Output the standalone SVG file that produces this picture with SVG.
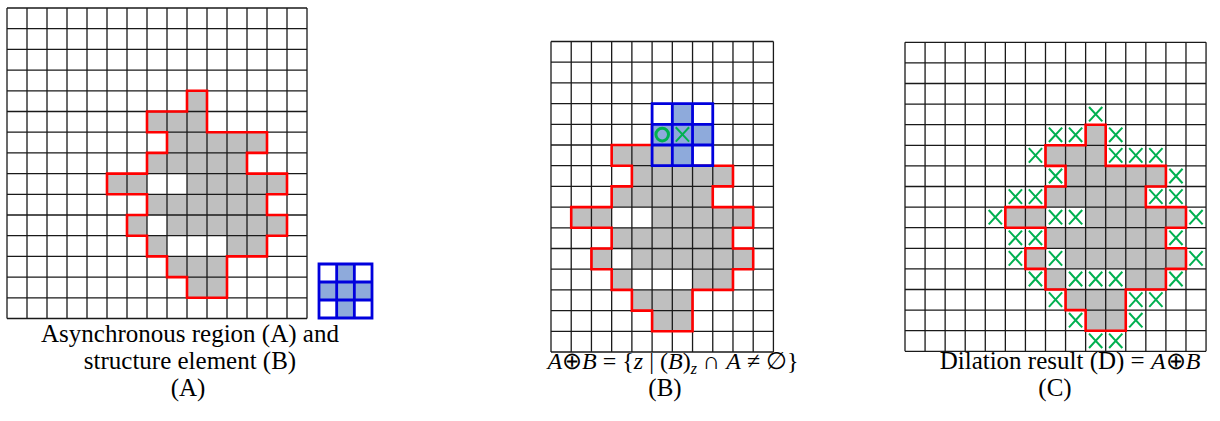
<svg xmlns="http://www.w3.org/2000/svg" xmlns:xlink="http://www.w3.org/1999/xlink" width="1220" height="421" viewBox="0 0 1220 421">
<style>
.grid{fill:none;stroke:#1a1a1a;stroke-width:1.3;vector-effect:non-scaling-stroke}
.cells{fill:#bfbfbf;stroke:none}
.outline{fill:none;stroke:#ff0000;stroke-width:2.6;stroke-linejoin:miter;vector-effect:non-scaling-stroke}
.xm{fill:none;stroke:#00b050;stroke-width:2;vector-effect:non-scaling-stroke}
.se-fill{fill:#8eaadb;stroke:none}
.se-line{fill:none;stroke:#0000dd;stroke-width:2.8;vector-effect:non-scaling-stroke}
.lbl{font-family:"Liberation Serif","Times New Roman",serif;font-size:25px;fill:#000;text-anchor:middle}
.math{font-size:24px}
.it{font-style:italic}
</style>
<defs>
<path id="g15" class="grid" d="M0 0V15M1 0V15M2 0V15M3 0V15M4 0V15M5 0V15M6 0V15M7 0V15M8 0V15M9 0V15M10 0V15M11 0V15M12 0V15M13 0V15M14 0V15M15 0V15M0 0H15M0 1H15M0 2H15M0 3H15M0 4H15M0 5H15M0 6H15M0 7H15M0 8H15M0 9H15M0 10H15M0 11H15M0 12H15M0 13H15M0 14H15M0 15H15"/>
<path id="g11" class="grid" d="M0 0V15M1 0V15M2 0V15M3 0V15M4 0V15M5 0V15M6 0V15M7 0V15M8 0V15M9 0V15M10 0V15M11 0V15M0 0H11M0 1H11M0 2H11M0 3H11M0 4H11M0 5H11M0 6H11M0 7H11M0 8H11M0 9H11M0 10H11M0 11H11M0 12H11M0 13H11M0 14H11M0 15H11"/>
<path id="shape" class="cells" d="M9 4h1v1h-1zM7 5h3v1h-3zM8 6h5v1h-5zM7 7h5v1h-5zM5 8h2v1h-2zM9 8h5v1h-5zM7 9h6v1h-6zM6 10h1v1h-1zM8 10h6v1h-6zM7 11h1v1h-1zM11 11h2v1h-2zM8 12h3v1h-3zM9 13h2v1h-2z"/>
<path id="outl" class="outline" d="M7 5V6H8V7H7V8H5V9H7V10H6V11H7V12H8V13H9V14H11V12H13V11H14V10H13V9H14V8H12V7H13V6H10V4H9V5Z"/>
<path id="xm" class="xm" d="M0.17 0.14L0.83 0.84M0.83 0.14L0.17 0.84"/>
<path id="sefill" class="se-fill" d="M1 0h1v1h1v1h-1v1h-1v-1h-1v-1h1z"/>
<path id="seline" class="se-line" d="M0 0H3V3H0ZM1 0V3M2 0V3M0 1H3M0 2H3"/>
</defs>

<g id="panel-a">
  <g id="grid-a" transform="translate(7 8) scale(20 20.7)">
    <use xlink:href="#shape"/>
    <use xlink:href="#g15"/>
    <use xlink:href="#outl"/>
  </g>
  <g id="se-a" transform="translate(319 264) scale(17.67 18)">
    <use xlink:href="#sefill"/>
    <use xlink:href="#seline"/>
  </g>
  <text class="lbl" x="190" y="342">Asynchronous region (A) and</text>
  <text class="lbl" x="190" y="369">structure element (B)</text>
  <text class="lbl" x="188" y="396">(A)</text>
</g>

<g id="panel-b">
  <g id="grid-b" transform="translate(551 41.5) scale(20.22 20.7)">
    <use xlink:href="#shape" x="-4"/>
    <use xlink:href="#g11"/>
    <use xlink:href="#outl" x="-4"/>
    <g transform="translate(5 3)">
      <use xlink:href="#sefill"/>
      <use xlink:href="#seline"/>
    </g>
    <use xlink:href="#xm" x="6" y="4"/>
  </g>
  <circle cx="662.2" cy="134.6" r="6.3" fill="none" stroke="#00b050" stroke-width="3"/>
  <text class="lbl math" x="673" y="369"><tspan class="it">A</tspan>⊕<tspan class="it">B</tspan> = {<tspan class="it">z</tspan> | (<tspan class="it">B</tspan>)<tspan class="it" font-size="16" dy="5">z</tspan><tspan dy="-5"> ∩ </tspan><tspan class="it">A</tspan> ≠ ∅}</text>
  <text class="lbl" x="665" y="396">(B)</text>
</g>

<g id="panel-c">
  <g id="grid-c" transform="translate(905 42.3) scale(20.07 20.6)">
    <use xlink:href="#shape"/>
    <use xlink:href="#g15"/>
    <use xlink:href="#outl"/>
    <g id="dilation-marks">
      <use xlink:href="#xm" x="9" y="3"/>
      <use xlink:href="#xm" x="7" y="4"/><use xlink:href="#xm" x="8" y="4"/><use xlink:href="#xm" x="10" y="4"/>
      <use xlink:href="#xm" x="6" y="5"/><use xlink:href="#xm" x="10" y="5"/><use xlink:href="#xm" x="11" y="5"/><use xlink:href="#xm" x="12" y="5"/>
      <use xlink:href="#xm" x="7" y="6"/><use xlink:href="#xm" x="13" y="6"/>
      <use xlink:href="#xm" x="5" y="7"/><use xlink:href="#xm" x="6" y="7"/><use xlink:href="#xm" x="12" y="7"/><use xlink:href="#xm" x="13" y="7"/>
      <use xlink:href="#xm" x="4" y="8"/><use xlink:href="#xm" x="7" y="8"/><use xlink:href="#xm" x="8" y="8"/><use xlink:href="#xm" x="14" y="8"/>
      <use xlink:href="#xm" x="5" y="9"/><use xlink:href="#xm" x="6" y="9"/><use xlink:href="#xm" x="13" y="9"/>
      <use xlink:href="#xm" x="5" y="10"/><use xlink:href="#xm" x="7" y="10"/><use xlink:href="#xm" x="14" y="10"/>
      <use xlink:href="#xm" x="6" y="11"/><use xlink:href="#xm" x="8" y="11"/><use xlink:href="#xm" x="9" y="11"/><use xlink:href="#xm" x="10" y="11"/><use xlink:href="#xm" x="13" y="11"/>
      <use xlink:href="#xm" x="7" y="12"/><use xlink:href="#xm" x="11" y="12"/><use xlink:href="#xm" x="12" y="12"/>
      <use xlink:href="#xm" x="8" y="13"/><use xlink:href="#xm" x="11" y="13"/>
      <use xlink:href="#xm" x="9" y="14"/><use xlink:href="#xm" x="10" y="14"/>
    </g>
  </g>
  <text class="lbl" x="1070" y="369">Dilation result (D) = <tspan class="it math">A</tspan><tspan class="math">⊕</tspan><tspan class="it math">B</tspan></text>
  <text class="lbl" x="1055" y="396">(C)</text>
</g>
</svg>
